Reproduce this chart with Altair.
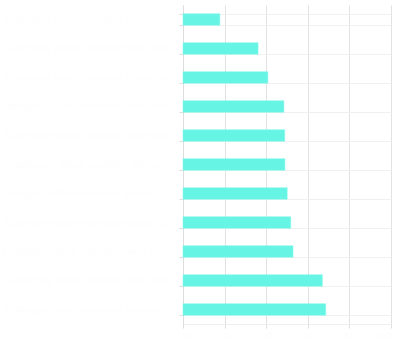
import altair as alt
import pandas as pd

categories = [
    "Category label number one here", "Category label number two here",
    "Category label number three here", "Category label number four here",
    "Category label number five here", "Category label number six here",
    "Category label number seven here", "Category label number eight here",
    "Category label number nine here", "Category label number ten here",
    "Category label number eleven here",
]
values = [17.7, 36.1, 40.8, 48.5, 48.9, 49.0, 50.1, 51.8, 52.9, 67.0, 68.6]
x_ticks = [0, 20, 40, 60, 80, 100]

df = pd.DataFrame({"category": categories, "value": values})

chart = alt.Chart(df).mark_bar(color="#66F5E4", stroke="#7ff7e9", strokeWidth=0.5).encode(
    y=alt.Y(
        "category:N",
        sort=categories,
        title=None,
        scale=alt.Scale(paddingInner=0.6, paddingOuter=0.3),
        axis=alt.Axis(
            grid=True, tickBand="extent", gridColor="#f0f0f0",
            domainColor="#dddddd", tickColor="#dddddd", tickSize=4,
            labelColor="#fefefe", labelFontSize=11, labelPadding=8,
            labelFont="Noto Sans", labelLimit=170,
        ),
    ),
    x=alt.X(
        "value:Q",
        title=None,
        scale=alt.Scale(domain=[0, 100], nice=False),
        axis=alt.Axis(
            values=x_ticks, grid=True, gridColor="#e2e2e2",
            domainColor="#eeeeee", tickColor="#dddddd", tickSize=4,
            labelColor="#fefefe", labelFontSize=11, labelFont="Noto Sans",
        ),
    ),
).properties(
    width=208,
    height=319,
    autosize=alt.AutoSizeParams(type="none"),
    padding={"left": 183, "top": 5, "right": 9, "bottom": 28},
).configure_view(stroke=None)

chart.save("out.html", embed_options={"renderer": "svg", "actions": False})
